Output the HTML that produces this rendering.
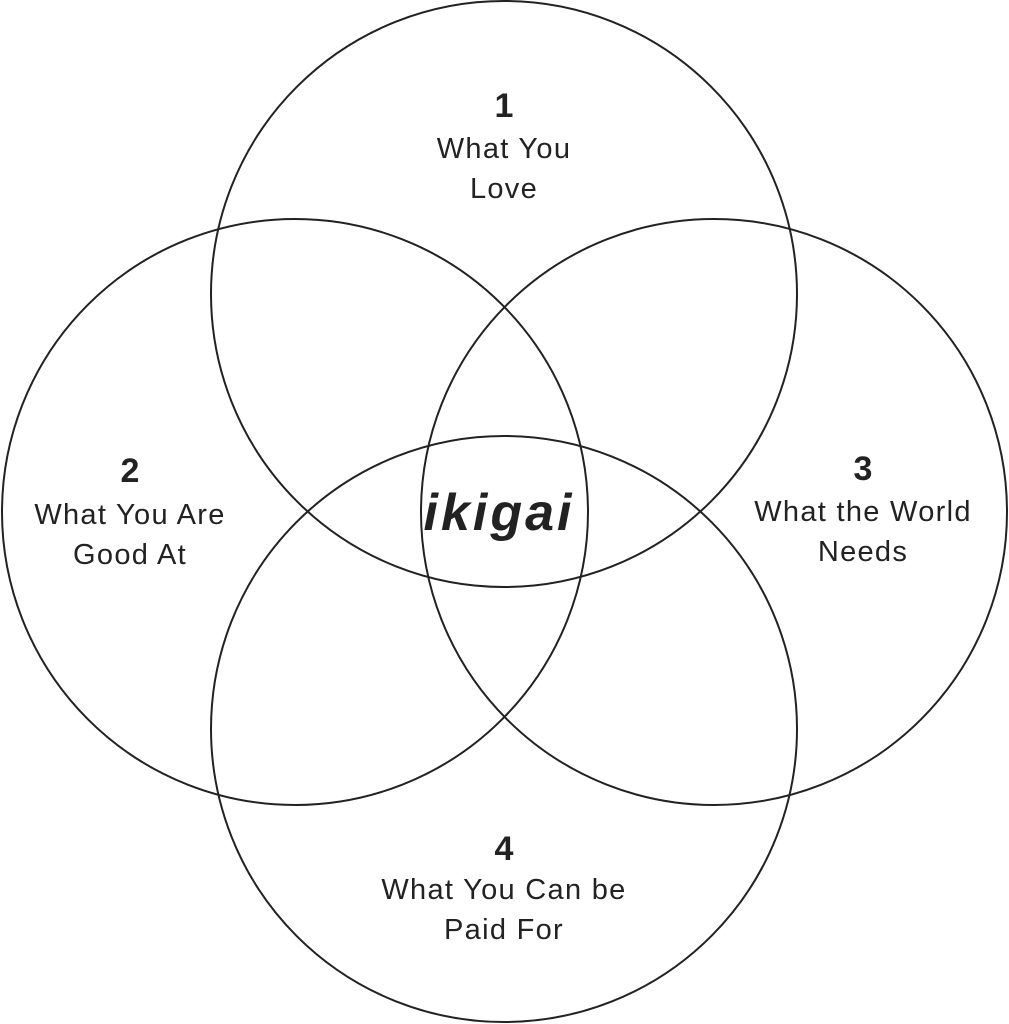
<!DOCTYPE html>
<html><head><meta charset="utf-8"><style>
body{margin:0;background:#fff;}
svg{display:block}
text{font-family:"Liberation Sans",sans-serif;fill:#222;text-anchor:middle}
.n{font-size:34px;font-weight:bold}
.t{font-size:29px;letter-spacing:1.3px}
</style></head><body>
<svg width="1009" height="1024" viewBox="0 0 1009 1024">
<g fill="none" stroke="#222" stroke-width="2">
<circle cx="504" cy="294" r="293"/>
<circle cx="295" cy="512" r="293"/>
<circle cx="714" cy="512" r="293"/>
<circle cx="504" cy="729" r="293"/>
</g>
<text class="n" x="504" y="117">1</text>
<text class="t" x="504" y="158">What You</text>
<text class="t" x="504" y="198">Love</text>
<text class="n" x="130" y="482">2</text>
<text class="t" x="130" y="524">What You Are</text>
<text class="t" x="130" y="564">Good At</text>
<text class="n" x="863" y="480">3</text>
<text class="t" x="863" y="521">What the World</text>
<text class="t" x="863" y="561">Needs</text>
<text class="n" x="504" y="860">4</text>
<text class="t" x="504" y="899">What You Can be</text>
<text class="t" x="504" y="939">Paid For</text>
<text x="499" y="530" style="font-size:52px;font-weight:bold;font-style:italic;letter-spacing:3px">ikigai</text>
</svg>
</body></html>
